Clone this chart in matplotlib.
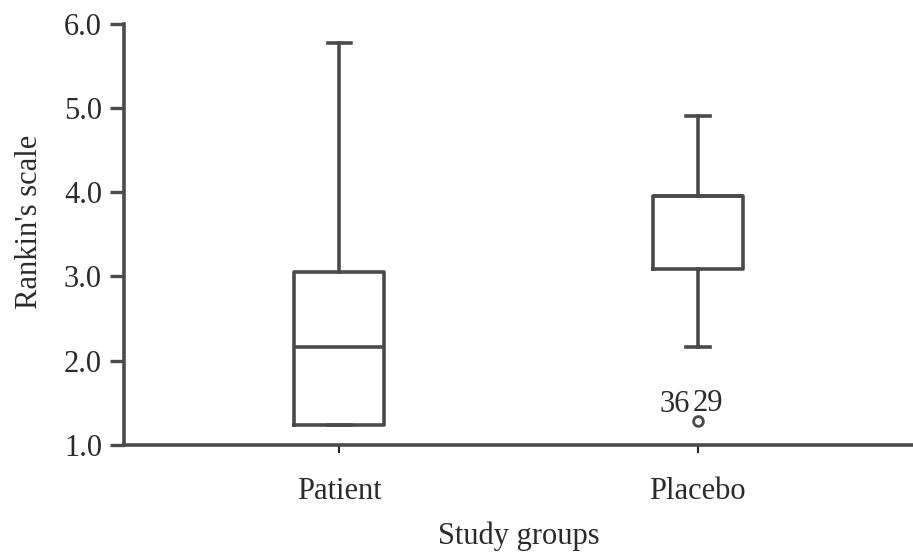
import matplotlib
matplotlib.use("Agg")
import matplotlib.pyplot as plt

# Values
groups = ["Patient", "Placebo"]
q1 = [1.23, 3.09]
medians = [2.16, 3.95]
q3 = [3.05, 3.95]
whisker_low = [1.23, 2.16]
whisker_high = [5.77, 4.90]
outliers = [[], [1.28]]
outlier_labels = ["36", "29"]

yticks = [1.0, 2.0, 3.0, 4.0, 5.0, 6.0]

plt.rcParams["font.family"] = ["Liberation Serif", "DejaVu Serif"]

line_color = "#4a4a4a"
text_color = "#2a2a2a"
fs = 22

fig = plt.figure(figsize=(9.13, 5.54), dpi=100)
ax = fig.add_axes([0.136, 0.197, 0.864, 0.76])

stats = []
for i, name in enumerate(groups):
    stats.append(
        {
            "label": name,
            "q1": q1[i],
            "med": medians[i],
            "q3": q3[i],
            "whislo": whisker_low[i],
            "whishi": whisker_high[i],
            "fliers": outliers[i],
        }
    )

positions = [1, 2]
lw = 2.6
ax.bxp(
    stats,
    positions=positions,
    widths=0.25,
    showfliers=True,
    boxprops=dict(color=line_color, linewidth=lw),
    medianprops=dict(color=line_color, linewidth=lw),
    whiskerprops=dict(color=line_color, linewidth=lw),
    capprops=dict(color=line_color, linewidth=lw),
    flierprops=dict(marker="o", markerfacecolor="white", markeredgecolor=line_color,
                    markersize=7, markeredgewidth=2),
    capwidths=0.065,
)

# outlier case numbers
ax.annotate(outlier_labels[0], (positions[1], outliers[1][0]), xytext=(-6, 6.5),
            textcoords="offset points", ha="right", va="baseline", fontsize=fs,
            color=text_color)
ax.annotate(outlier_labels[1], (positions[1], outliers[1][0]), xytext=(-4, 7.2),
            textcoords="offset points", ha="left", va="baseline", fontsize=fs,
            color=text_color)

ax.set_xlim(0.4, 2.6)
ax.set_ylim(1.0, 6.0)
ax.set_yticks(yticks)
ax.set_yticklabels([f"{v:.1f}" for v in yticks])
ax.set_xticks(positions)
ax.set_xticklabels(groups)

for side in ["top", "right"]:
    ax.spines[side].set_visible(False)
for side in ["left", "bottom"]:
    ax.spines[side].set_linewidth(2.6)
    ax.spines[side].set_color(line_color)

ax.tick_params(axis="y", length=10, width=2.4, color=line_color,
               labelsize=fs, labelcolor=text_color, pad=6)
ax.tick_params(axis="x", length=6, width=1.5, color="#222222",
               labelsize=fs, labelcolor=text_color, pad=17)

ax.set_ylabel("Rankin's scale", fontsize=fs, color=text_color)
ax.yaxis.set_label_coords(-0.102, 0.53)
ax.set_xlabel("Study groups", fontsize=fs, color=text_color, labelpad=11)

fig.savefig("out.png", dpi=100)
